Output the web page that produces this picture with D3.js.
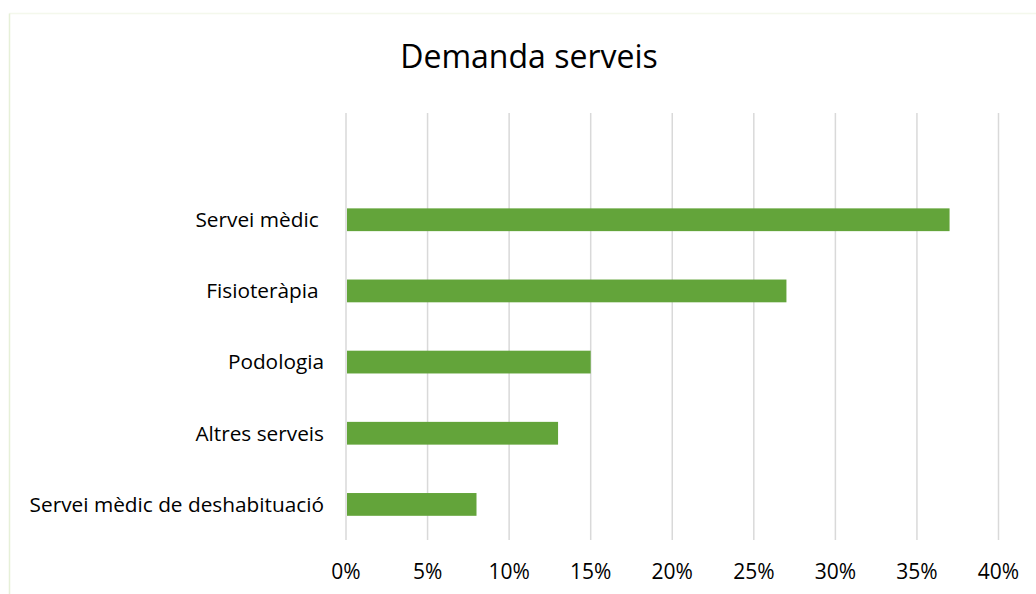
<!DOCTYPE html>
<html lang="ca">
<head>
<meta charset="utf-8">
<script src="https://d3js.org/d3.v7.min.js"></script>
<style>
  body { margin: 0; background: #fff; }
  text { font-family: "Open Sans", "DejaVu Sans", sans-serif; fill: #000; }
  .cat { white-space: pre; }
</style>
</head>
<body>
<script>
// data
var categories = ["Servei mèdic ", "Fisioteràpia ", "Podologia", "Altres serveis", "Servei mèdic de deshabituació"];
var values = [37, 27, 15, 13, 8];
var ticks = [0, 5, 10, 15, 20, 25, 30, 35, 40];
var title = "Demanda serveis";

var width = 1036, height = 594;
var plotLeft = 346, plotRight = 998.5, plotTop = 113, plotBottom = 540;

var svg = d3.select("body").append("svg")
    .attr("width", width)
    .attr("height", height);

// chart frame
svg.append("line")
    .attr("x1", 9.5).attr("x2", 1036)
    .attr("y1", 13.5).attr("y2", 13.5)
    .attr("stroke", "#f4f8ec")
    .attr("stroke-width", 1.5);
svg.append("line")
    .attr("x1", 9.5).attr("x2", 9.5)
    .attr("y1", 13.5).attr("y2", 594)
    .attr("stroke", "#e6f0d8")
    .attr("stroke-width", 1.5);

var x = d3.scaleLinear().domain([0, 40]).range([plotLeft, plotRight]);

// one empty slot above the first category
var slot = (plotBottom - plotTop) / (categories.length + 1);
var y = d3.scaleBand()
    .domain(categories)
    .range([plotTop + slot, plotBottom])
    .paddingInner(0.68)
    .paddingOuter(0.34);

// gridlines
svg.append("g").selectAll("line")
    .data(ticks)
    .join("line")
    .attr("x1", function (d) { return x(d); })
    .attr("x2", function (d) { return x(d); })
    .attr("y1", plotTop)
    .attr("y2", plotBottom)
    .attr("stroke", "#d9d9d9")
    .attr("stroke-width", 1.5);

// bars
svg.append("g").selectAll("rect")
    .data(values)
    .join("rect")
    .attr("x", x(0) + 1)
    .attr("y", function (d, i) { return y(categories[i]); })
    .attr("width", function (d) { return x(d) - x(0) - 1; })
    .attr("height", y.bandwidth())
    .attr("fill", "#63a43a");

// category labels
svg.append("g").selectAll("text")
    .data(categories)
    .join("text")
    .attr("class", "cat")
    .attr("x", 324)
    .attr("y", function (d) { return y(d) + y.bandwidth() / 2; })
    .attr("dy", "0.35em")
    .attr("text-anchor", "end")
    .style("font-size", "20.8px")
    .text(function (d) { return d; });

// tick labels
svg.append("g").selectAll("text")
    .data(ticks)
    .join("text")
    .attr("x", function (d) { return x(d); })
    .attr("y", 579)
    .attr("text-anchor", "middle")
    .style("font-size", "21px")
    .text(function (d) { return d + "%"; });

// title
svg.append("text")
    .attr("x", 529)
    .attr("y", 68)
    .attr("text-anchor", "middle")
    .style("font-size", "32px")
    .text(title);
</script>
</body>
</html>
